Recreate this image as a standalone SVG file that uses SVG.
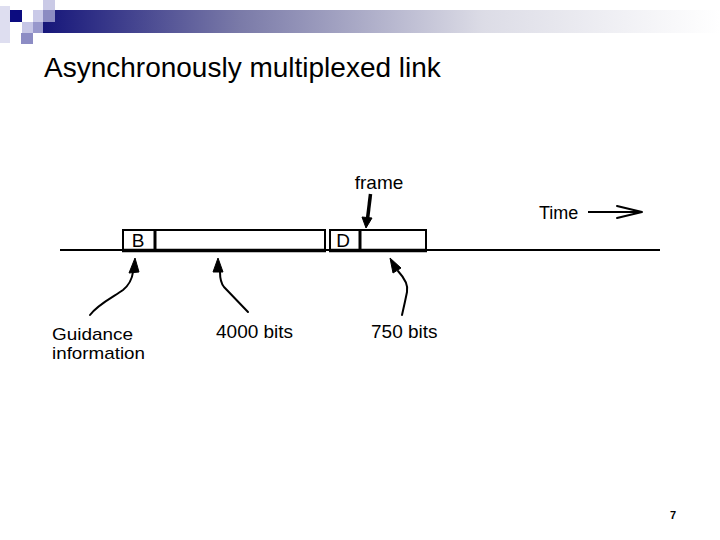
<svg xmlns="http://www.w3.org/2000/svg" width="720" height="540" viewBox="0 0 720 540">
<style>
text{font-family:"Liberation Sans",Arial,sans-serif;fill:#000}
.lbl{font-size:19px}
.box{fill:#fff;stroke:#000;stroke-width:2}
.bot{stroke:#000;stroke-width:3.5}
.div{stroke:#000;stroke-width:3}
.conn{fill:none;stroke:#000;stroke-width:2;stroke-linecap:round;stroke-linejoin:round}
.head{fill:#000;stroke:#000;stroke-width:1;stroke-linejoin:round}
</style>
<defs>
<linearGradient id="bar" x1="43" y1="0" x2="720" y2="0" gradientUnits="userSpaceOnUse">
<stop offset="0" stop-color="#16167a"/>
<stop offset="0.29" stop-color="#7a7aa8"/>
<stop offset="0.65" stop-color="#dcdce6"/>
<stop offset="1" stop-color="#ffffff"/>
</linearGradient>
</defs>
<rect width="720" height="540" fill="#fff"/>
<g id="decoration">
<rect x="43" y="10" width="677" height="23" fill="url(#bar)"/>
<rect x="0" y="6" width="10" height="37" fill="#dedef0"/>
<rect x="10" y="10" width="12" height="12" fill="#0c0c80"/>
<rect x="22" y="22" width="11" height="11" fill="#c6c6e6"/>
<rect x="21" y="33" width="12" height="11" fill="#8c8cc4"/>
<rect x="33" y="10" width="10" height="12" fill="#cacae8"/>
<rect x="33" y="22" width="10" height="11" fill="#9898cc"/>
<rect x="43" y="0" width="12" height="10" fill="#cacae6"/>
<rect x="43" y="10" width="12" height="12" fill="#8c8cc2"/>
</g>
<text id="title" x="44" y="77" font-size="28">Asynchronously multiplexed link</text>
<g id="timeline">
<line x1="60" y1="250" x2="660" y2="250" stroke="#000" stroke-width="2"/>
</g>
<g id="frame1">
<rect class="box" x="123" y="230" width="202" height="20"/>
<line class="bot" x1="122" y1="250.5" x2="326" y2="250.5"/>
<line class="div" x1="155" y1="230" x2="155" y2="250"/>
<text class="lbl" x="138" y="247" text-anchor="middle">B</text>
</g>
<g id="frame2">
<rect class="box" x="330" y="230" width="96" height="20"/>
<line class="bot" x1="329" y1="250.5" x2="427" y2="250.5"/>
<line class="div" x1="360" y1="230" x2="360" y2="250"/>
<text class="lbl" x="343" y="247" text-anchor="middle">D</text>
</g>
<g id="labels">
<text class="lbl" x="379" y="189" text-anchor="middle">frame</text>
<text x="539" y="219" font-size="18">Time</text>
<text x="52" y="339.5" font-size="17" textLength="81" lengthAdjust="spacingAndGlyphs">Guidance</text>
<text x="52" y="358.5" font-size="17" textLength="93" lengthAdjust="spacingAndGlyphs">information</text>
<text class="lbl" x="216" y="338">4000 bits</text>
<text class="lbl" x="371" y="338">750 bits</text>
</g>
<g id="connectors">
<line x1="370.5" y1="194" x2="367.5" y2="219" stroke="#000" stroke-width="3.5"/>
<polygon class="head" points="366,228 362,217 372,218"/>
<line x1="588" y1="212" x2="641" y2="212" stroke="#000" stroke-width="2"/>
<polyline class="conn" points="617,206 642,212 617,218"/>
<path class="conn" d="M 90 315 C 98 304, 115 296, 123 290 C 129 285, 132 280, 133 272"/>
<polygon class="head" points="135,258 129,273 139,272"/>
<path class="conn" d="M 248 312 L 224 287 Q 220 282 220 272"/>
<polygon class="head" points="218,258 213,272 223,272"/>
<path class="conn" d="M 402 315 Q 405 302 407 292 Q 409 283 398 271"/>
<polygon class="head" points="390,258 401,268 393,273"/>
</g>
<text id="page" x="673" y="519" font-size="11" font-weight="bold" text-anchor="middle">7</text>
</svg>
